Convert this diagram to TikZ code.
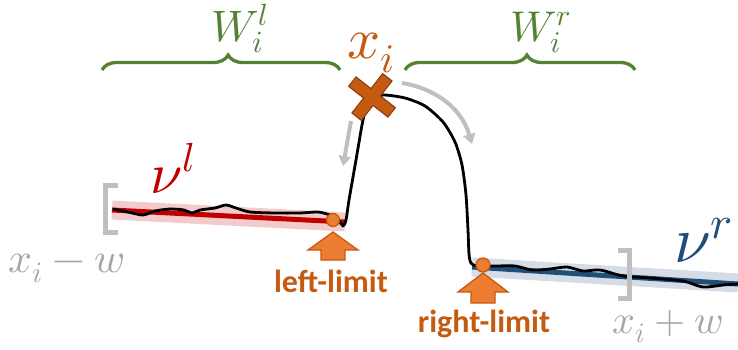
\documentclass[tikz,border=0pt]{standalone}
\usepackage{fontspec}
\usepackage{unicode-math}
\usepackage{xcolor}
\usepackage{tikz}
\usetikzlibrary{arrows.meta, decorations.pathreplacing}
\newfontfamily\limitfont{Carlito}

\definecolor{winGreen}{HTML}{548235}
\definecolor{xOrange}{HTML}{C55A11}
\definecolor{xDark}{HTML}{843C0C}
\definecolor{dotOrange}{HTML}{ED7D31}
\definecolor{lRed}{HTML}{C00000}
\definecolor{lPink}{HTML}{F3CBCB}
\definecolor{rBlue}{HTML}{1F4E79}
\definecolor{rBand}{HTML}{D5DCE5}
\definecolor{markGray}{HTML}{BFBFBF}
\definecolor{textGray}{HTML}{A6A6A6}

\begin{document}
\begin{tikzpicture}[x=1pt, y=-1pt,
        winbrace/.style={winGreen, line width=3.3pt, decorate,
            decoration={brace, amplitude=15pt, aspect=0.53}},
        limitarrow/.style={fill=dotOrange, draw=xOrange, line width=1.3pt, line join=miter},
        limitdot/.style={fill=dotOrange, draw=xOrange, line width=1.3pt},
        hintarrow/.style={markGray, line width=4pt, -{Triangle[length=10pt, width=12pt]}},
        bracket/.style={markGray, line width=5pt},
        limitlabel/.style={xOrange, font=\limitfont\bfseries\fontsize{32}{36}\selectfont, anchor=base}]
        \useasboundingbox (0,0) rectangle (738,349);

        % 左右窗口的大括号
        \draw[winbrace] (102,70) -- (340,70);
        \draw[winbrace] (405,70) -- (635,70);
        \node[winGreen, anchor=base west, font=\fontsize{44}{48}\selectfont, inner sep=0pt] (WL) at (211,41) {$W_i^l$};
        \node[winGreen, anchor=base west, font=\fontsize{43}{47}\selectfont, inner sep=0pt] (WR) at (510,41) {$W_i^r$};

        % 左右两段的拟合带
        \draw[lPink, line width=19pt] (112,210) -- (345,222);
        \draw[lRed, line width=5pt] (112,210) -- (345,222);
        \draw[rBand, line width=19pt] (472,267) -- (738,283);
        \draw[rBlue, line width=5pt] (472,267) -- (738,284);

        % 信号曲线
        \draw[line width=2.8pt, line join=round] plot[smooth, tension=0.45] coordinates {
            (113,209) (128,212) (143,215) (155,211) (170,209) (184,210) (192,213)
            (200,210) (215,208) (226,205) (236,208) (250,212) (275,213) (300,213)
            (318,212) (330,215) (338,219) (343,226) (346,220) (349,200) (356,160)
            (362,125) (366,108) (372,98) (384,95) (405,98) (425,106) (443,122)
            (455,142) (462,165) (466,195) (468,230) (469,254) (471,263) (477,266)
            (495,266) (515,266) (532,270) (550,269) (567,267) (583,271) (600,270)
            (623,276) (650,278) (683,281) (703,287) (723,285) (738,284)};

        % 左右极限点
        \coordinate (LLim) at (333,220);
        \coordinate (RLim) at (483,265);
        \draw[limitdot] (LLim) circle (6.5pt);
        \draw[limitdot] (RLim) circle (7pt);

        % 指向极限点的箭头
        \draw[limitarrow, shift={(333,232)}] (0,0) -- (25,18) -- (12,18) -- (12,28)
            -- (-12,28) -- (-12,18) -- (-25,18) -- cycle;
        \draw[limitarrow, shift={(483,273)}] (0,0) -- (25,19) -- (12,19) -- (12,30)
            -- (-12,30) -- (-12,19) -- (-25,19) -- cycle;
        \node[limitlabel] (LText) at (331,292) {left-limit};
        \node[limitlabel] (RText) at (484,332) {right-limit};

        % 断点 x_i
        \coordinate (Xi) at (372,97);
        \draw[fill=xOrange, draw=xDark, line width=1pt, shift={(Xi)}, rotate=-38]
            (6,25) -- (6,6) -- (25,6) -- (25,-6) -- (6,-6) -- (6,-25) -- (-6,-25)
            -- (-6,-6) -- (-25,-6) -- (-25,6) -- (-6,6) -- (-6,25) -- cycle;
        \node[xOrange, anchor=base west, font=\fontsize{58}{62}\selectfont, inner sep=0pt] (XLabel) at (347,58) {$x_i$};

        % 灰色方向箭头
        \coordinate (HintLA) at (351,121);
        \coordinate (HintLB) at (343,166);
        \coordinate (HintRA) at (402,83);
        \coordinate (HintRB) at (472,144);
        \draw[hintarrow] (HintLA) -- (HintLB);
        \draw[hintarrow] (HintRA) .. controls (438,89) and (462,110) .. (HintRB);

        % 窗口端点的方括号
        \draw[bracket] (118,185) -- (105.5,185) -- (105.5,232) -- (118,232);
        \draw[bracket] (618,250) -- (629.5,250) -- (629.5,298) -- (618,298);
        \node[textGray, anchor=base west, font=\fontsize{42}{46}\selectfont, inner sep=0pt] (LEnd) at (8,272) {$x_i-w$};
        \node[textGray, anchor=base west, font=\fontsize{40}{44}\selectfont, inner sep=0pt] (REnd) at (612,333) {$x_i+w$};

        % 两段的模型标签
        \node[lRed, anchor=base west, font=\fontsize{58}{62}\selectfont, inner sep=0pt] (NuL) at (150,193) {$\nu^l$};
        \node[rBlue, anchor=base west, font=\fontsize{66}{70}\selectfont, inner sep=0pt] (NuR) at (674,262) {$\nu^r$};
    \end{tikzpicture}
\end{document}
